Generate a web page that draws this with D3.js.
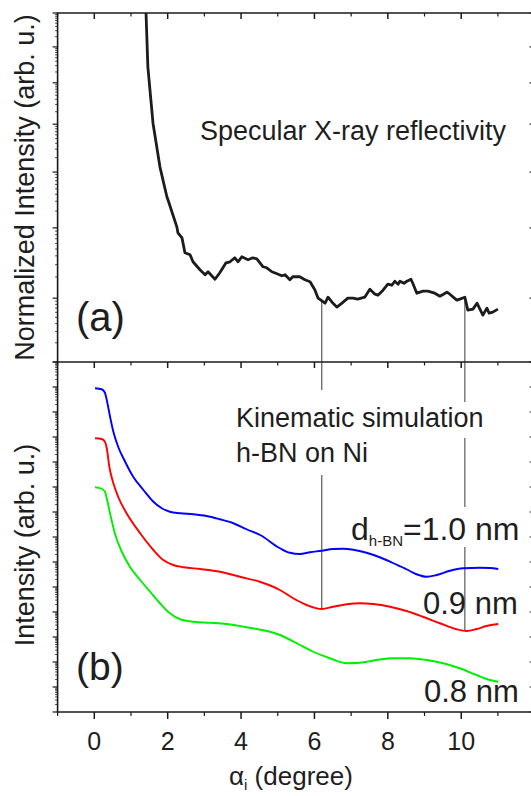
<!DOCTYPE html>
<html>
<head>
<meta charset="utf-8">
<script src="https://cdn.jsdelivr.net/npm/d3@7/dist/d3.min.js"></script>
<style>
  html, body { margin: 0; padding: 0; background: #fff; }
  svg { display: block; }
  text { font-family: "Liberation Sans", Arial, sans-serif; fill: #1e1e1e; }
</style>
</head>
<body>
<svg id="chart" width="531" height="796"></svg>
<script>
// ---- data: incidence angle (degree) and log10 of intensity ----
const reflAlpha = [1.36,1.41,1.46,1.60,1.79,1.98,2.01,2.25,2.28,2.39,2.47,2.61,2.69,2.88,3.02,3.10,3.29,3.42,3.59,3.70,3.83,3.92,4.02,4.19,4.32,4.43,4.60,4.70,4.84,4.98,5.11,5.20,5.33,5.41,5.60,5.74,5.88,6.01,6.10,6.29,6.37,6.48,6.61,6.75,6.91,7.05,7.18,7.37,7.51,7.65,7.73,7.87,8.00,8.11,8.19,8.28,8.33,8.44,8.52,8.63,8.68,8.79,8.96,9.09,9.28,9.42,9.61,9.69,9.88,9.96,10.10,10.18,10.32,10.43,10.59,10.70,10.76,10.86,11.00];
const reflLogI  = [0.40,0.00,-1.08,-2.21,-3.09,-3.69,-3.75,-4.29,-4.41,-4.51,-4.81,-4.85,-4.99,-5.15,-5.25,-5.19,-5.34,-5.21,-5.01,-4.99,-4.91,-4.99,-4.89,-4.95,-4.91,-4.93,-5.09,-5.11,-5.19,-5.23,-5.27,-5.25,-5.35,-5.29,-5.29,-5.35,-5.39,-5.55,-5.72,-5.82,-5.70,-5.80,-5.90,-5.82,-5.72,-5.72,-5.74,-5.70,-5.54,-5.64,-5.66,-5.56,-5.44,-5.46,-5.38,-5.44,-5.38,-5.42,-5.38,-5.34,-5.42,-5.62,-5.58,-5.58,-5.62,-5.68,-5.60,-5.64,-5.76,-5.74,-5.70,-5.96,-5.94,-5.82,-6.06,-5.92,-6.02,-6.00,-5.94];

const simAlpha10 = [0.02,0.20,0.29,0.34,0.43,0.52,0.65,0.84,1.06,1.34,1.61,1.84,2.06,2.34,2.70,3.06,3.42,3.79,4.15,4.52,5.06,5.33,5.60,5.88,6.20,6.51,6.78,7.06,7.42,7.78,8.15,8.51,8.78,9.06,9.33,9.69,10.05,10.51,10.78,11.01];
const simLogI10  = [-1.05,-1.09,-1.23,-1.52,-2.19,-2.79,-3.39,-3.99,-4.59,-5.12,-5.59,-5.85,-5.99,-6.05,-6.09,-6.16,-6.29,-6.45,-6.69,-6.92,-7.45,-7.63,-7.68,-7.61,-7.55,-7.48,-7.47,-7.51,-7.63,-7.81,-8.05,-8.29,-8.49,-8.59,-8.52,-8.35,-8.25,-8.23,-8.24,-8.28];

const simAlpha09 = [0.02,0.20,0.29,0.34,0.41,0.52,0.65,0.88,1.25,1.61,1.88,2.15,2.43,2.88,3.43,3.97,4.51,5.06,5.42,5.79,6.20,6.51,6.88,7.24,7.60,8.06,8.51,8.96,9.42,9.87,10.15,10.42,10.69,11.01];
const simLogI09  = [-3.05,-3.08,-3.19,-3.45,-4.19,-4.85,-5.39,-6.05,-6.85,-7.52,-7.92,-8.12,-8.21,-8.28,-8.39,-8.59,-8.79,-9.12,-9.45,-9.72,-9.88,-9.79,-9.69,-9.65,-9.68,-9.79,-9.96,-10.19,-10.45,-10.69,-10.76,-10.68,-10.56,-10.48];

const simAlpha08 = [0.02,0.20,0.29,0.35,0.45,0.56,0.75,0.97,1.25,1.52,1.79,2.06,2.34,2.70,3.15,3.61,4.15,5.06,5.52,5.97,6.42,6.88,7.24,7.69,8.15,8.60,9.06,9.51,9.96,10.42,10.78,11.01];
const simLogI08  = [-5.01,-5.07,-5.19,-5.52,-6.19,-6.85,-7.59,-8.19,-8.72,-9.19,-9.65,-10.05,-10.29,-10.39,-10.43,-10.48,-10.61,-10.92,-11.25,-11.59,-11.85,-12.05,-12.03,-11.92,-11.85,-11.85,-11.92,-12.05,-12.25,-12.52,-12.72,-12.79];

// guide lines linking features of the measured and simulated curves
const guideAlpha = [6.20, 10.10];

// axis ticks
const xMajor = [0, 2, 4, 6, 8, 10];
const xMinor = [-1, 1, 3, 5, 7, 9, 11];
const topDecades = [-7, -5.72, -4.31, -3.19, -2.23, -1.40, -0.68, 0];
const botDecades = [-14,-13,-12,-11,-10,-9,-8,-7,-6,-5,-4,-3,-2,-1,0];

const svg = d3.select("#chart");

const x = d3.scaleLinear().domain([-1, 12]).range([57.6, 534.6]);
const yTop = d3.scaleLinear().domain([-7, 0]).range([362, 13]);
const yBot = d3.scaleLinear().domain([-14, 0]).range([712, 362]);

const ink = "#1a1a1a";

// clip regions for the two panels
const defs = svg.append("defs");
defs.append("clipPath").attr("id", "clipTop").append("rect")
  .attr("x", x(-1)).attr("y", yTop(0)).attr("width", x(12) - x(-1)).attr("height", yTop(-7) - yTop(0));
defs.append("clipPath").attr("id", "clipBot").append("rect")
  .attr("x", x(-1)).attr("y", yBot(0)).attr("width", x(12) - x(-1)).attr("height", yBot(-14) - yBot(0));

// ---- x axes ----
function xTicks(g, y0, dir, majLen, minLen) {
  g.selectAll(null).data(xMajor).enter().append("line")
    .attr("x1", d => x(d)).attr("x2", d => x(d))
    .attr("y1", y0).attr("y2", y0 + dir * majLen)
    .attr("stroke", ink).attr("stroke-width", 1.5);
  g.selectAll(null).data(xMinor).enter().append("line")
    .attr("x1", d => x(d)).attr("x2", d => x(d))
    .attr("y1", y0).attr("y2", y0 + dir * minLen)
    .attr("stroke", ink).attr("stroke-width", 1.2);
}
const axes = svg.append("g");
xTicks(axes, yTop(0), 1, 6, 3.5);
xTicks(axes, yBot(0), 1, 6, 3.5);
xTicks(axes, yBot(-14), 1, 7, 4);

axes.selectAll(null).data(xMajor).enter().append("text")
  .attr("x", d => x(d)).attr("y", 750)
  .attr("text-anchor", "middle").attr("font-size", 25)
  .text(d => d);

// ---- y axes (logarithmic decades with minor ticks) ----
function yTicks(g, scale, decades, xl, xr) {
  decades.forEach((d, i) => {
    [xl, xr].forEach(x0 => {
      g.append("line").attr("x1", x0).attr("x2", x0 - 5)
        .attr("y1", scale(d)).attr("y2", scale(d))
        .attr("stroke", ink).attr("stroke-width", 1.2);
    });
    if (i > 0) {
      const lo = decades[i - 1], span = d - lo;
      for (let k = 2; k <= 9; k++) {
        const v = lo + span * Math.log10(k);
        g.append("line").attr("x1", xl).attr("x2", xl - 2.5)
          .attr("y1", scale(v)).attr("y2", scale(v))
          .attr("stroke", ink).attr("stroke-width", 0.8);
      }
    }
  });
}
yTicks(axes, yTop, topDecades, x(-1), x(12));
yTicks(axes, yBot, botDecades, x(-1), x(12));

// frame lines
axes.append("line").attr("x1", x(-1)).attr("x2", x(-1)).attr("y1", yTop(0)).attr("y2", yBot(-14))
  .attr("stroke", ink).attr("stroke-width", 1.6);
[yTop(0), yBot(0), yBot(-14)].forEach(yy => {
  axes.append("line").attr("x1", x(-1) - 0.8).attr("x2", x(12)).attr("y1", yy).attr("y2", yy)
    .attr("stroke", ink).attr("stroke-width", 1.6);
});

// ---- guide lines ----
const interp = (A, L, a) => {
  const i = d3.bisectLeft(A, a);
  const t = (a - A[i - 1]) / (A[i] - A[i - 1]);
  return L[i - 1] + t * (L[i] - L[i - 1]);
};
const guides = svg.append("g").attr("stroke", "#222").attr("stroke-width", 0.9);
const segs = [
  // first guide, broken where the simulation caption sits
  [guideAlpha[0], yTop(interp(reflAlpha, reflLogI, guideAlpha[0])), 390],
  [guideAlpha[0], 475, yBot(interp(simAlpha09, simLogI09, guideAlpha[0]))],
  // second guide, broken at the caption and at the thickness label
  [guideAlpha[1], yTop(interp(reflAlpha, reflLogI, guideAlpha[1])), 402],
  [guideAlpha[1], 438, 507],
  [guideAlpha[1], 547, yBot(interp(simAlpha09, simLogI09, guideAlpha[1]))]
];
segs.forEach(([a, y1, y2]) => {
  guides.append("line").attr("x1", x(a)).attr("x2", x(a)).attr("y1", y1).attr("y2", y2);
});

// ---- curves ----
const lineTop = d3.line().x(d => x(d[0])).y(d => yTop(d[1]));
svg.append("path")
  .datum(d3.zip(reflAlpha, reflLogI))
  .attr("clip-path", "url(#clipTop)")
  .attr("fill", "none").attr("stroke", "#1c1c1c").attr("stroke-width", 2.8)
  .attr("stroke-linejoin", "round")
  .attr("d", lineTop);

const lineBot = d3.line().curve(d3.curveMonotoneX).x(d => x(d[0])).y(d => yBot(d[1]));
[[simAlpha10, simLogI10, "#0000ff"], [simAlpha09, simLogI09, "#ff0000"], [simAlpha08, simLogI08, "#00ee00"]]
  .forEach(([A, L, c]) => {
    svg.append("path").datum(d3.zip(A, L))
      .attr("clip-path", "url(#clipBot)")
      .attr("fill", "none").attr("stroke", c).attr("stroke-width", 1.9)
      .attr("d", lineBot);
  });

// ---- text ----
svg.append("text").attr("x", 200).attr("y", 140).attr("font-size", 27).text("Specular X-ray reflectivity");
svg.append("text").attr("x", 76).attr("y", 331).attr("font-size", 40).attr("fill", "#2a2a2a").text("(a)");
svg.append("text").attr("x", 76).attr("y", 680).attr("font-size", 39).attr("fill", "#2a2a2a").text("(b)");
svg.append("text").attr("x", 236).attr("y", 427).attr("font-size", 27).text("Kinematic simulation");
svg.append("text").attr("x", 236).attr("y", 462).attr("font-size", 27).text("h-BN on Ni");

const dLabel = svg.append("text").attr("x", 351).attr("y", 540).attr("font-size", 32).attr("fill", "#2a2a2a");
dLabel.append("tspan").text("d");
dLabel.append("tspan").attr("font-size", 15).attr("dy", 6).text("h-BN");
dLabel.append("tspan").attr("dy", -6).text("=1.0 nm");
svg.append("text").attr("x", 423).attr("y", 614).attr("font-size", 31).attr("fill", "#2a2a2a").text("0.9 nm");
svg.append("text").attr("x", 424).attr("y", 702).attr("font-size", 31).attr("fill", "#2a2a2a").text("0.8 nm");

svg.append("text").attr("transform", `translate(34,${(yTop(0) + yTop(-7)) / 2}) rotate(-90)`)
  .attr("text-anchor", "middle").attr("font-size", 27).text("Normalized Intensity (arb. u.)");
svg.append("text").attr("transform", `translate(34,545) rotate(-90)`)
  .attr("text-anchor", "middle").attr("font-size", 27).text("Intensity (arb. u.)");

const xl = svg.append("text").attr("x", 229).attr("y", 785).attr("font-size", 26);
xl.append("tspan").text("α");
xl.append("tspan").attr("font-size", 15).attr("dy", 5).text("i");
xl.append("tspan").attr("dy", -5).text(" (degree)");
</script>
</body>
</html>
